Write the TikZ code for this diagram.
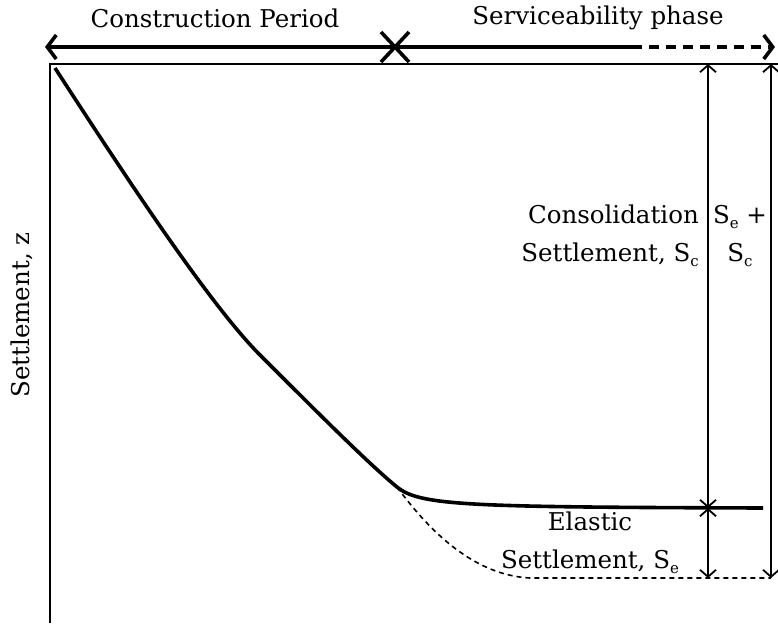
\documentclass[tikz,border=0pt]{standalone}
\usepackage{fontspec}
\setmainfont{DejaVu Serif}
\usetikzlibrary{arrows.meta,positioning}
\newcommand{\lowsub}[1]{\raisebox{-0.35ex}{\fontsize{15}{15}\selectfont #1}}

\begin{document}
\begin{tikzpicture}[
	x=1pt, y=-1pt,
	txt/.style={
		font = \fontsize{24.5}{38}\selectfont,
		inner sep=0pt
	},
	dimline/.style={
		line width=1.8pt,
		{Straight Barb[length=7pt,width=16pt]}-{Straight Barb[length=7pt,width=16pt]}
	},
	period/.style={
		line width=3.6pt
	}
	]
	\useasboundingbox (0,0) rectangle (778,623);

	% frame
	\coordinate (o) at (50,64);
	\coordinate (tr) at (778,64);
	\coordinate (bl) at (50,623);
	\draw[line width=2pt] (bl) -- (o) -- (tr);

	% time line
	\coordinate (t0) at (45,47);
	\coordinate (tx) at (395,47);
	\coordinate (td) at (632,47);
	\coordinate (t1) at (775,47);
	\draw[period, {Straight Barb[length=9pt,width=24pt]}-] (t0) -- (tx) -- (td);
	\draw[period, dash pattern=on 10pt off 7pt, -{Straight Barb[length=9pt,width=24pt]}] (td) -- (t1);
	\draw[period] ([shift={(-14,-15)}]tx) -- ([shift={(14,15)}]tx);
	\draw[period] ([shift={(-14,15)}]tx) -- ([shift={(14,-15)}]tx);

	\node[txt] (cons) at (215,18) {Construction Period};
	\node[txt] (serv) at (598,18) {Serviceability phase};

	% settlement curves
	\coordinate (c0) at (55,68);
	\coordinate (bend) at (260,355);
	\coordinate (knee) at (397,487);
	\coordinate (c1) at (763,508);
	\coordinate (e0) at (530,578);
	\coordinate (e1) at (771,578);
	\draw[line width=3.6pt] (c0) .. controls (125,176) and (210,305) .. (bend)
		.. controls (320,415) and (370,465) .. (knee)
		.. controls (420,506) and (470,507) .. (c1);
	\draw[line width=1.6pt, dash pattern=on 5pt off 4pt] (knee) .. controls (425,525) and (470,575) .. (e0) -- (e1);

	% dimensions
	\coordinate (a0) at (708,64);
	\coordinate (a1) at (708,508);
	\coordinate (a2) at (708,578);
	\coordinate (b0) at (771,64);
	\draw[dimline] (a0) -- (a1);
	\draw[dimline] (a1) -- (a2);
	\draw[dimline] (b0) -- (e1);

	\node[txt, align=right, anchor=east] (sc) at (699,236)
		{Consolidation\\Settlement, S\lowsub{c}};
	\node[txt, align=center] (sesc) at (740,236)
		{S\lowsub{e} +\\S\lowsub{c}};
	\node[txt, align=center] (se) at (590,543)
		{Elastic\\Settlement, S\lowsub{e}};
	\node[txt, rotate=90] (z) at (22,315) {Settlement, z};

\end{tikzpicture}
\end{document}
